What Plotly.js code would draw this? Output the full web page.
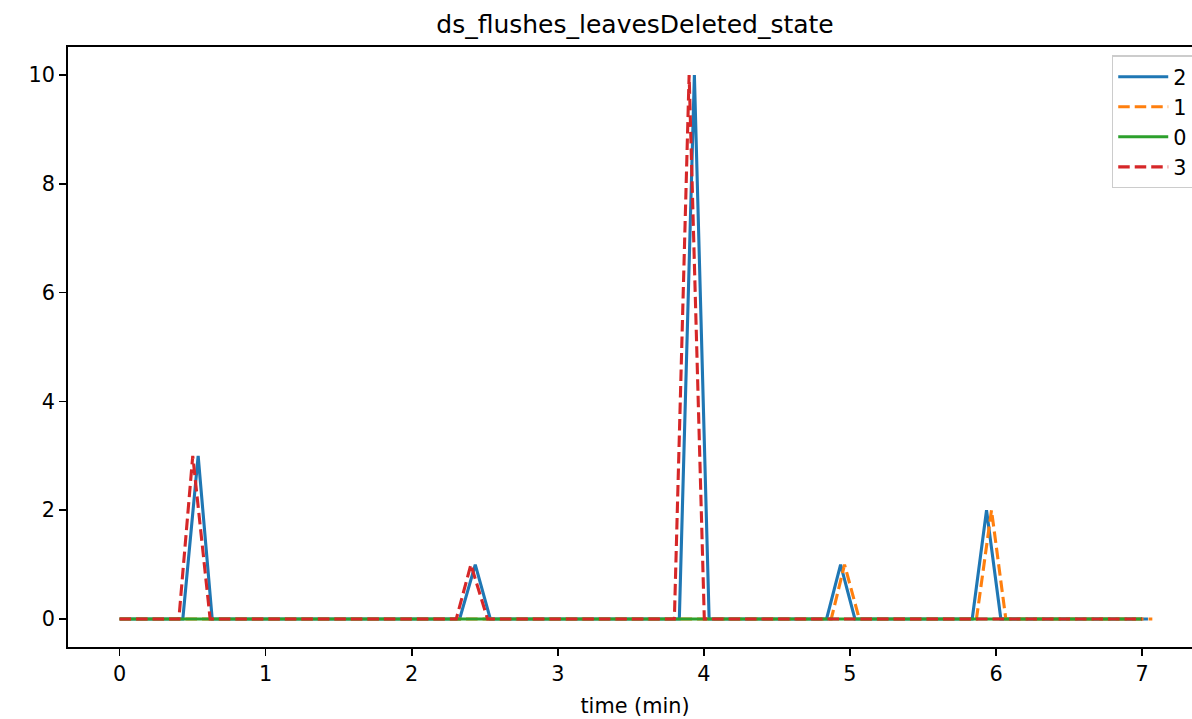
<!DOCTYPE html>
<html>
<head>
<meta charset="utf-8">
<script src="https://cdn.plot.ly/plotly-3.0.1.min.js"></script>
<style>
html,body{margin:0;padding:0;overflow:hidden;background:#fff;}
#chart{width:1210px;height:719px;}
</style>
</head>
<body>
<div id="chart"></div>
<script>
// Series "2"
const time2 = [0, 0.433, 0.538, 0.634, 2.328, 2.435, 2.538, 3.832, 3.935, 4.036, 4.840, 4.936, 5.034, 5.837, 5.935, 6.033, 7.04];
const vals2 = [0, 0, 3, 0, 0, 1, 0, 0, 10, 0, 0, 1, 0, 0, 2, 0, 0];
// Series "1"
const time1 = [0, 4.872, 4.963, 5.064, 5.866, 5.969, 6.067, 7.07];
const vals1 = [0, 0, 1, 0, 0, 2, 0, 0];
// Series "0"
const time0 = [0, 7.0];
const vals0 = [0, 0];
// Series "3"
const time3 = [0, 0.406, 0.501, 0.62, 2.305, 2.405, 2.519, 3.798, 3.899, 4.003, 7.0];
const vals3 = [0, 0, 3, 0, 0, 1, 0, 0, 10, 0, 0];

const seriesNames = ['2', '1', '0', '3'];
const xTicks = [0, 1, 2, 3, 4, 5, 6, 7];
const yTicks = [0, 2, 4, 6, 8, 10];

const lw = 3.1;
const dashPat = '11.5px,5px';
const traces = [
  {x: time2, y: vals2, name: seriesNames[0], mode: 'lines', line: {color: '#1f77b4', width: lw}},
  {x: time1, y: vals1, name: seriesNames[1], mode: 'lines', line: {color: '#ff7f0e', width: lw, dash: dashPat}},
  {x: time0, y: vals0, name: seriesNames[2], mode: 'lines', line: {color: '#2ca02c', width: lw}},
  {x: time3, y: vals3, name: seriesNames[3], mode: 'lines', line: {color: '#d62728', width: lw, dash: dashPat}}
];

const font = {family: 'DejaVu Sans, sans-serif', size: 20.8, color: '#000'};
const layout = {
  width: 1210, height: 719,
  margin: {l: 68, r: 8, t: 47, b: 72, pad: 0},
  paper_bgcolor: '#fff', plot_bgcolor: '#fff',
  font: font,
  showlegend: true,
  title: {text: 'ds_flushes_leavesDeleted_state', font: {family: 'DejaVu Sans, sans-serif', size: 25, color: '#000'},
          x: 0.5, xref: 'paper', xanchor: 'center', y: 1 - 24/719, yref: 'container', yanchor: 'middle'},
  xaxis: {
    range: [-0.353, 7.41], tickvals: xTicks, ticktext: xTicks.map(String),
    showgrid: false, zeroline: false, showline: true, linecolor: '#000', linewidth: 1.6, mirror: true,
    ticks: 'outside', ticklen: 7.3, tickwidth: 1.6, tickcolor: '#000', tickfont: font,
    title: {text: 'time (min)', font: font, standoff: 13}
  },
  yaxis: {
    range: [-0.515, 10.515], tickvals: yTicks, ticktext: yTicks.map(String),
    showgrid: false, zeroline: false, showline: true, linecolor: '#000', linewidth: 1.6, mirror: true,
    ticks: 'outside', ticklen: 7.3, tickwidth: 1.6, tickcolor: '#000', tickfont: font
  },
  legend: {
    x: 0.992, xanchor: 'right', y: 0.986, yanchor: 'top',
    bgcolor: 'rgba(255,255,255,0.8)', bordercolor: '#cccccc', borderwidth: 1.3,
    font: font, tracegroupgap: 0, itemwidth: 50
  }
};

Plotly.newPlot('chart', traces, layout, {displayModeBar: false, staticPlot: true});
</script>
</body>
</html>
